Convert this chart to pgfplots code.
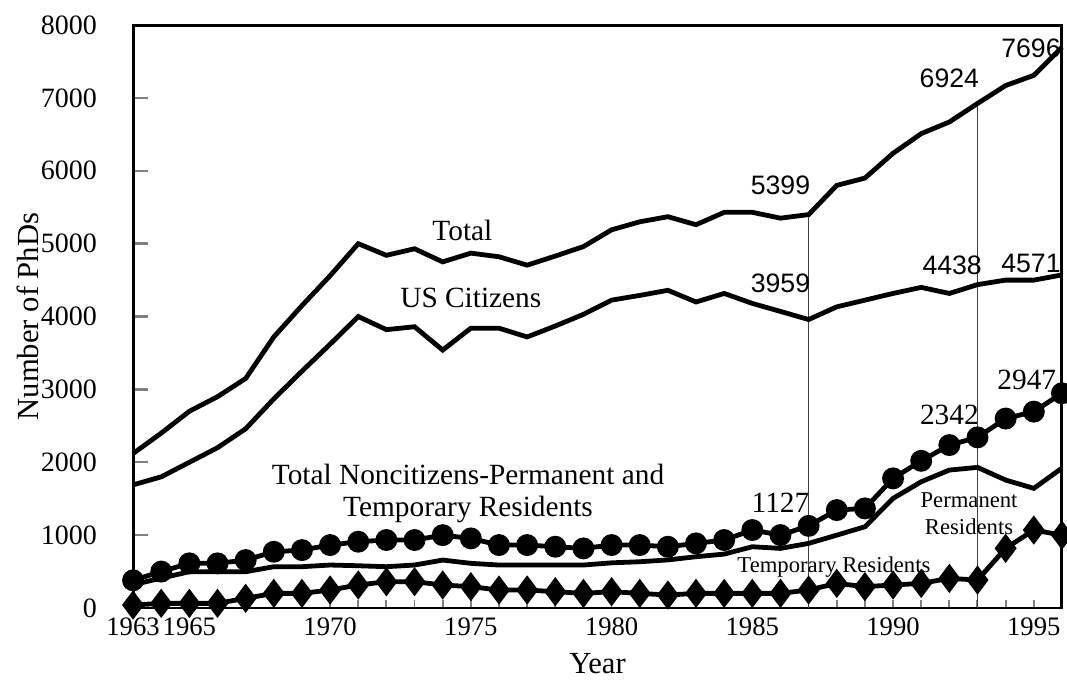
\documentclass[border=0pt]{standalone}
\usepackage{fontspec}
\setmainfont{Liberation Serif}
\newfontfamily\numsans{Liberation Sans}
\usepackage{pgfplots}
\pgfplotsset{compat=1.18}

\pgfplotstableread{
year total us noncit temp perm
1963 2120 1690 380 320 41
1964 2400 1800 500 410 64
1965 2700 2000 613 498 64
1966 2900 2200 613 498 64
1967 3150 2460 658 498 133
1968 3720 2870 772 567 201
1969 4150 3250 795 567 201
1970 4560 3620 864 590 247
1971 5000 4000 910 580 316
1972 4840 3820 933 567 361
1973 4930 3860 933 590 361
1974 4750 3540 1000 658 316
1975 4870 3840 955 613 293
1976 4820 3840 864 590 247
1977 4705 3720 864 590 247
1978 4830 3870 841 590 224
1979 4960 4030 818 590 201
1980 5190 4225 864 620 224
1981 5300 4290 864 635 201
1982 5370 4360 841 660 178
1983 5260 4200 887 704 201
1984 5430 4317 933 740 201
1985 5430 4180 1070 841 201
1986 5350 4070 1001 818 201
1987 5399 3959 1127 887 247
1988 5800 4133 1344 1000 338
1989 5900 4225 1367 1115 293
1990 6240 4317 1779 1504 316
1991 6510 4400 2020 1733 338
1992 6670 4317 2236 1893 407
1993 6924 4438 2342 1930 384
1994 7170 4500 2600 1756 819
1995 7310 4500 2695 1642 1070
1996 7696 4571 2947 1920 1000
}\phds

\begin{document}
\begin{tikzpicture}
\begin{axis}[
  scale only axis, width=348.3pt, height=218.6pt,
  xmin=1963, xmax=1996, ymin=0, ymax=8000,
  clip=false,
  axis line style={line width=1.1pt},
  tick pos=left,
  xtick={1963,1965,1970,1975,1980,1985,1990,1995},
  minor xtick={1963,...,1996},
  major x tick style={draw=none},
  minor tick length=3pt,
  major tick length=5.5pt,
  minor x tick style={line width=0.7pt},
  ytick={0,1000,...,8000},
  y tick style={line width=0.9pt},
  /pgf/number format/.cd, 1000 sep={}, assume math mode=true, /pgfplots/.cd,
  yticklabel style={font=\fontsize{10.5}{12}\selectfont, xshift=-10pt},
  xticklabel style={font=\fontsize{10}{12}\selectfont},
  xlabel={Year}, ylabel={Number of PhDs},
  label style={font=\fontsize{11.5}{13}\selectfont},
  ylabel style={yshift=-6pt},
]
\coordinate (axsw) at (rel axis cs:0,0);
\coordinate (axne) at (rel axis cs:1,1);
% drop lines at 1987 and 1993
\addplot[line width=0.5pt, black!75] coordinates {(1987,0) (1987,5399)};
\addplot[line width=0.5pt, black!75] coordinates {(1993,0) (1993,6924)};

\addplot[line width=1.8pt, no markers] table[x=year, y=total] {\phds};
\addplot[line width=1.8pt, no markers] table[x=year, y=us] {\phds};
\addplot[line width=1.8pt, no markers] table[x=year, y=temp] {\phds};
\addplot[line width=1.8pt, mark=*, mark size=3.2pt, mark options={fill=black}] table[x=year, y=noncit] {\phds};
\addplot[line width=1.8pt, mark=diamond*, mark size=4pt, mark options={fill=black}] table[x=year, y=perm] {\phds};

\node[font=\fontsize{11}{13}\selectfont] at (axis cs:1974.7,5185) {Total};
\node[font=\fontsize{11}{13}\selectfont] at (axis cs:1975.0,4252) {US Citizens};
\node[font=\fontsize{11}{13}\selectfont, align=center, inner sep=0pt] at (axis cs:1974.9,1565)
  {Total Noncitizens-Permanent and\\[-1pt]Temporary Residents};
\node[font=\numsans\fontsize{10}{12}\selectfont] at (axis cs:1986.0,5802) {5399};
\node[font=\numsans\fontsize{10}{12}\selectfont] at (axis cs:1986.0,4458) {3959};
\node[font=\fontsize{11}{13}\selectfont] at (axis cs:1986.0,1440) {1127};
\node[font=\numsans\fontsize{10}{12}\selectfont] at (axis cs:1992.0,7270) {6924};
\node[font=\numsans\fontsize{10}{12}\selectfont] at (axis cs:1992.1,4705) {4438};
\node[font=\fontsize{11}{13}\selectfont] at (axis cs:1992.0,2650) {2342};
\node[font=\numsans\fontsize{10}{12}\selectfont] at (axis cs:1994.9,7682) {7696};
\node[font=\numsans\fontsize{10}{12}\selectfont] at (axis cs:1994.9,4733) {4571};
\node[font=\fontsize{11}{13}\selectfont] at (axis cs:1994.75,3128) {2947};
\node[font=\fontsize{8.5}{10}\selectfont, align=center, inner sep=0pt] at (axis cs:1992.7,1290) {Permanent\\Residents};
\node[font=\fontsize{8.5}{10}\selectfont, inner sep=0pt] at (axis cs:1987.9,562) {Temporary Residents};
\end{axis}
\pgfresetboundingbox
\path[use as bounding box] ([xshift=-49.9pt,yshift=-28.9pt]axsw) rectangle ([xshift=1.9pt,yshift=9.4pt]axne);
\end{tikzpicture}
\end{document}
